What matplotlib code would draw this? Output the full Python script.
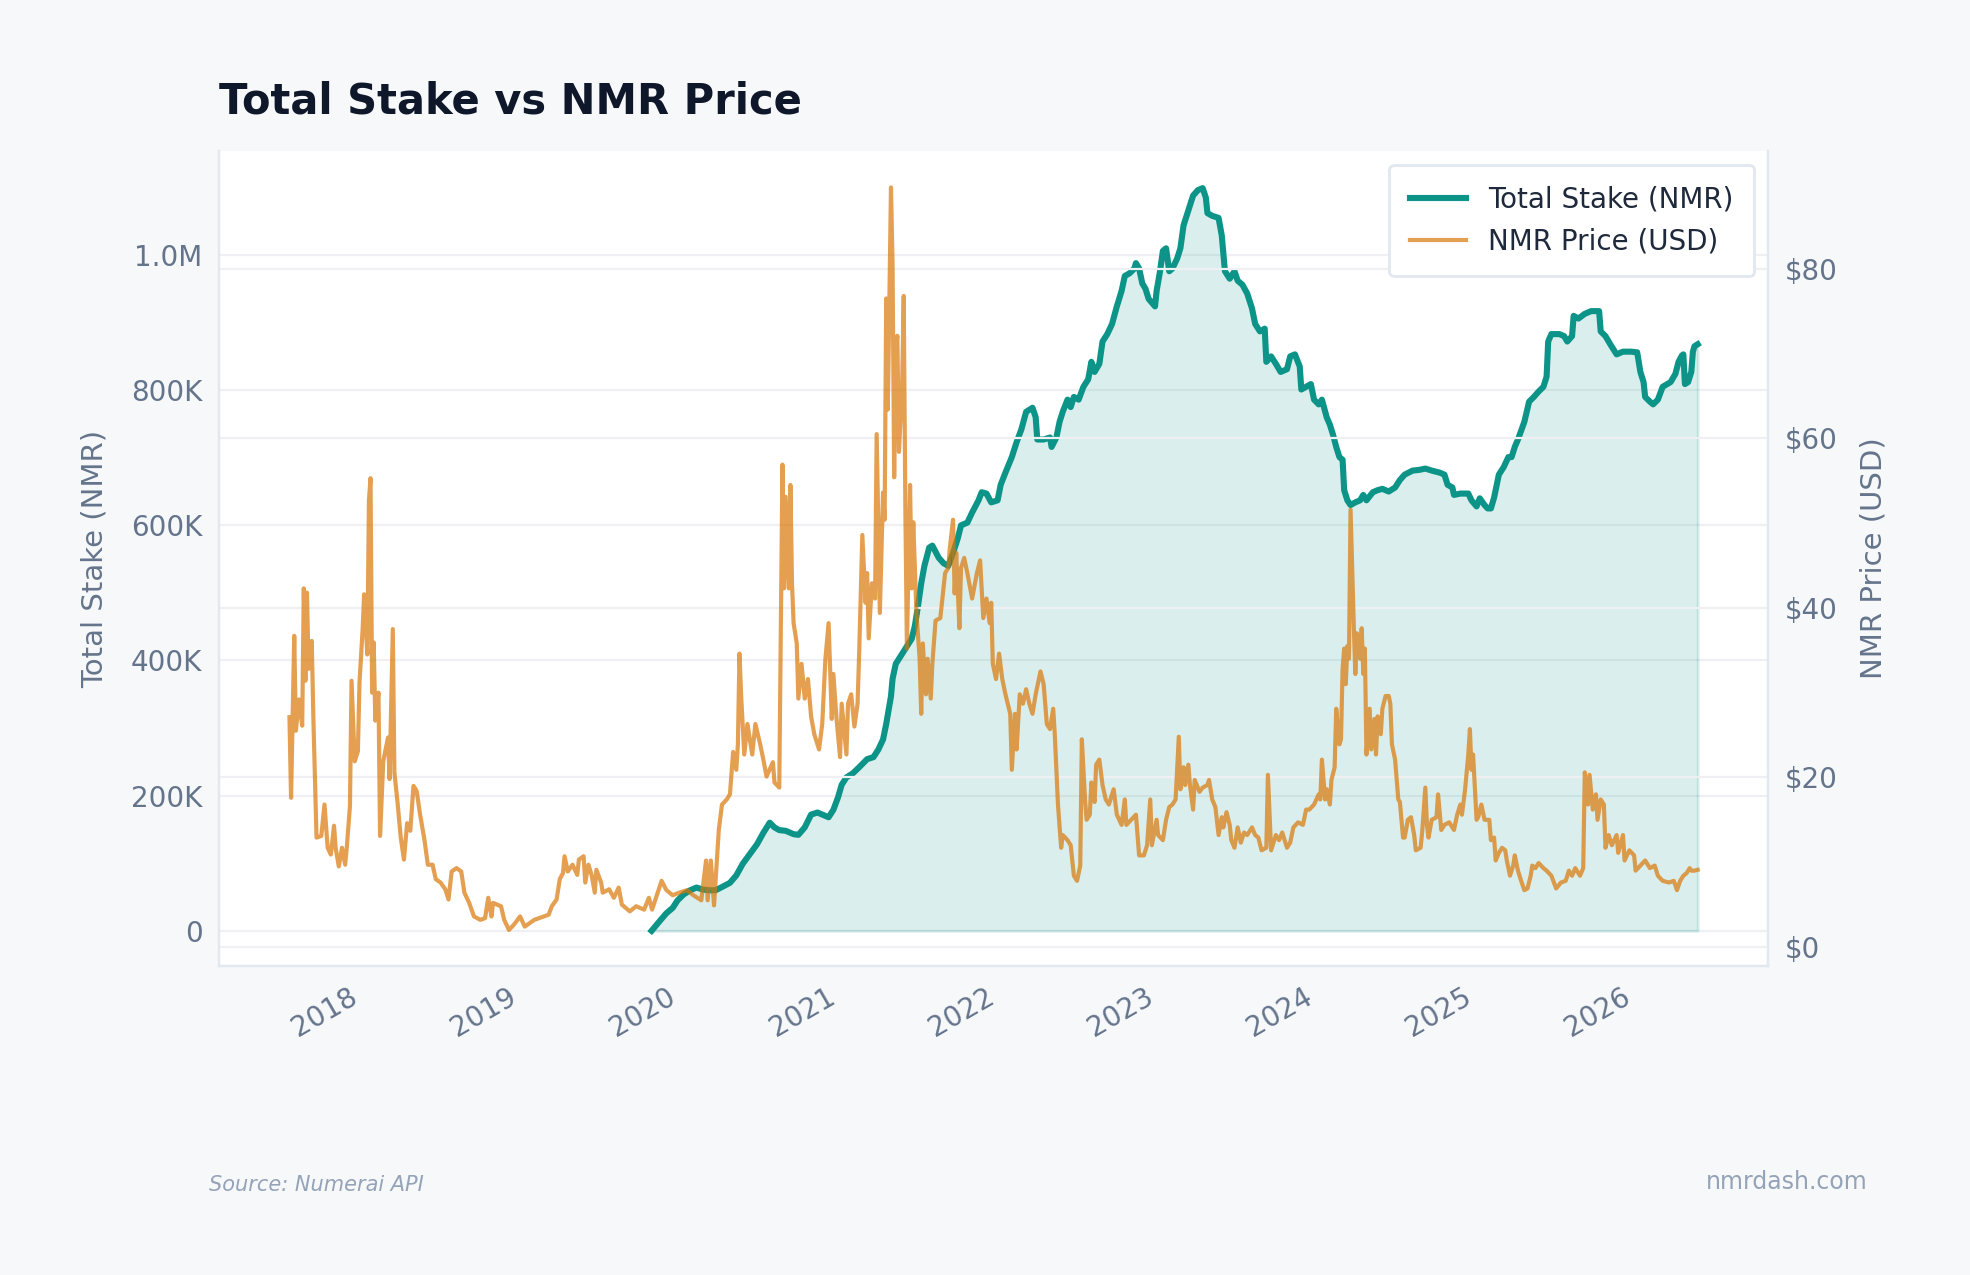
import datetime as dt
import numpy as np
import matplotlib
matplotlib.use('Agg')
import matplotlib.pyplot as plt
import matplotlib.dates as mdates
from matplotlib.ticker import FuncFormatter

# total stake (decimal year, thousands of NMR)
stake_t = [2019.817, 2019.87, 2019.91, 2019.95, 2019.98, 2020.02, 2020.06, 2020.10, 2020.14, 2020.18,
           2020.22, 2020.27, 2020.31, 2020.35, 2020.39, 2020.43, 2020.48, 2020.52, 2020.56, 2020.59,
           2020.62, 2020.66, 2020.71, 2020.74, 2020.78, 2020.82, 2020.86, 2020.89, 2020.93, 2020.96,
           2020.99, 2021.01, 2021.04, 2021.08, 2021.12, 2021.17, 2021.21, 2021.24, 2021.27, 2021.29,
           2021.32, 2021.33, 2021.35, 2021.39, 2021.42, 2021.45, 2021.47, 2021.49, 2021.51, 2021.53,
           2021.56, 2021.58, 2021.62, 2021.65, 2021.68, 2021.71, 2021.74, 2021.76, 2021.80, 2021.83,
           2021.87, 2021.89, 2021.92, 2021.95, 2021.99, 2022.01, 2022.04, 2022.08, 2022.11, 2022.14,
           2022.17, 2022.21, 2022.23, 2022.24, 2022.28, 2022.32, 2022.33, 2022.36, 2022.38, 2022.40,
           2022.43, 2022.45, 2022.47, 2022.50, 2022.53, 2022.56, 2022.58, 2022.60, 2022.63, 2022.65,
           2022.68, 2022.71, 2022.74, 2022.77, 2022.79, 2022.82, 2022.85, 2022.86, 2022.88, 2022.90,
           2022.92, 2022.94, 2022.98, 2022.99, 2023.01, 2023.03, 2023.05, 2023.07, 2023.09, 2023.12,
           2023.14, 2023.16, 2023.19, 2023.22, 2023.25, 2023.28, 2023.30, 2023.31, 2023.34, 2023.38,
           2023.40, 2023.42, 2023.45, 2023.48, 2023.50, 2023.53, 2023.56, 2023.59, 2023.61, 2023.64,
           2023.67, 2023.68, 2023.71, 2023.74, 2023.77, 2023.81, 2023.83, 2023.86, 2023.89, 2023.90,
           2023.93, 2023.96, 2023.98, 2024.01, 2024.03, 2024.06, 2024.08, 2024.10, 2024.12, 2024.14,
           2024.16, 2024.17, 2024.19, 2024.21, 2024.24, 2024.27, 2024.29, 2024.31, 2024.35, 2024.38,
           2024.41, 2024.45, 2024.49, 2024.52, 2024.55, 2024.60, 2024.64, 2024.68, 2024.72, 2024.77,
           2024.80, 2024.82, 2024.85, 2024.86, 2024.90, 2024.95, 2024.97, 2025.00, 2025.02, 2025.05,
           2025.07, 2025.09, 2025.11, 2025.14, 2025.17, 2025.20, 2025.22, 2025.24, 2025.26, 2025.30,
           2025.33, 2025.36, 2025.39, 2025.42, 2025.44, 2025.45, 2025.47, 2025.52, 2025.55, 2025.57,
           2025.60, 2025.61, 2025.64, 2025.68, 2025.72, 2025.77, 2025.78, 2025.81, 2025.84, 2025.88,
           2025.92, 2025.97, 2026.01, 2026.03, 2026.05, 2026.06, 2026.09, 2026.11, 2026.14, 2026.17,
           2026.22, 2026.25, 2026.27, 2026.29, 2026.30, 2026.31, 2026.33, 2026.35, 2026.36, 2026.37,
           2026.39]
stake_k = [0, 15, 26, 34, 45, 54, 60, 64, 61, 60,
           60, 66, 71, 82, 99, 112, 128, 145, 160, 153,
           149, 148, 143, 142, 153, 172, 175, 172, 168, 179,
           198, 216, 227, 233, 242, 254, 257, 268, 283, 306,
           347, 373, 395, 410, 421, 432, 451, 481, 514, 540,
           567, 570, 552, 544, 540, 559, 581, 600, 604, 619,
           637, 649, 647, 634, 637, 660, 678, 701, 723, 742,
           768, 774, 760, 727, 727, 730, 716, 730, 753, 768,
           786, 775, 790, 786, 805, 816, 842, 827, 839, 872,
           883, 898, 924, 947, 969, 973, 980, 988, 980, 958,
           950, 935, 924, 947, 973, 1006, 1010, 976, 980, 995,
           1010, 1044, 1066, 1088, 1096, 1099, 1085, 1062, 1058, 1055,
           1029, 976, 965, 976, 962, 956, 943, 921, 898, 887,
           891, 842, 850, 839, 827, 831, 850, 853, 835, 801,
           805, 809, 786, 779, 786, 760, 749, 734, 716, 701,
           697, 652, 637, 630, 634, 637, 645, 637, 649, 652,
           654, 650, 656, 667, 675, 681, 682, 684, 681, 678,
           675, 660, 656, 645, 647, 647, 637, 628, 640, 630,
           625, 625, 641, 675, 686, 701, 701, 716, 727, 753,
           783, 790, 798, 805, 820, 872, 883, 883, 880, 872,
           880, 910, 906, 913, 917, 917, 887, 880, 868, 853,
           857, 857, 856, 827, 812, 790, 783, 779, 786, 805,
           812, 824, 842, 851, 853, 809, 812, 827, 857, 865,
           868]

# NMR price (decimal year, USD)
price_t = [2017.54, 2017.55, 2017.57, 2017.58, 2017.60, 2017.62, 2017.63, 2017.64, 2017.65, 2017.66,
           2017.68, 2017.69, 2017.70, 2017.71, 2017.74, 2017.76, 2017.78, 2017.80, 2017.82, 2017.83,
           2017.85, 2017.87, 2017.89, 2017.90, 2017.92, 2017.93, 2017.95, 2017.97, 2017.98, 2018.00,
           2018.01, 2018.03, 2018.04, 2018.05, 2018.06, 2018.07, 2018.08, 2018.10, 2018.11, 2018.13,
           2018.16, 2018.17, 2018.19, 2018.20, 2018.22, 2018.24, 2018.26, 2018.28, 2018.30, 2018.32,
           2018.34, 2018.36, 2018.39, 2018.41, 2018.44, 2018.46, 2018.49, 2018.52, 2018.54, 2018.56,
           2018.59, 2018.62, 2018.64, 2018.67, 2018.70, 2018.74, 2018.77, 2018.79, 2018.81, 2018.82,
           2018.87, 2018.89, 2018.92, 2018.95, 2018.99, 2019.02, 2019.08, 2019.14, 2019.17, 2019.19,
           2019.22, 2019.24, 2019.26, 2019.27, 2019.29, 2019.32, 2019.35, 2019.36, 2019.39, 2019.40,
           2019.42, 2019.44, 2019.46, 2019.47, 2019.50, 2019.51, 2019.55, 2019.58, 2019.61, 2019.63,
           2019.68, 2019.72, 2019.77, 2019.80, 2019.82,
           2019.85, 2019.88, 2019.91, 2019.95, 2019.99, 2020.04, 2020.08, 2020.13, 2020.16, 2020.17,
           2020.19, 2020.21, 2020.24, 2020.26, 2020.29, 2020.31, 2020.33, 2020.35, 2020.36, 2020.37,
           2020.38, 2020.40, 2020.42, 2020.45, 2020.47, 2020.50, 2020.52, 2020.54, 2020.58, 2020.59,
           2020.62, 2020.64, 2020.65, 2020.66, 2020.68, 2020.69, 2020.70, 2020.71, 2020.73, 2020.74,
           2020.76, 2020.78, 2020.80, 2020.82, 2020.84, 2020.87, 2020.89, 2020.91, 2020.93, 2020.95,
           2020.96, 2020.98, 2021.00, 2021.01, 2021.04, 2021.05, 2021.07, 2021.09, 2021.11, 2021.12,
           2021.14, 2021.16, 2021.17, 2021.18, 2021.20, 2021.22, 2021.23, 2021.25, 2021.27, 2021.28,
           2021.29, 2021.30, 2021.32, 2021.33, 2021.34, 2021.35, 2021.36, 2021.37, 2021.39, 2021.40,
           2021.41, 2021.42, 2021.44, 2021.45, 2021.46, 2021.48, 2021.50, 2021.51, 2021.52, 2021.54,
           2021.55, 2021.57, 2021.58, 2021.60, 2021.63, 2021.65, 2021.66, 2021.68, 2021.69, 2021.71,
           2021.72, 2021.73, 2021.75, 2021.76, 2021.78, 2021.80, 2021.83, 2021.86, 2021.88, 2021.90,
           2021.92, 2021.94, 2021.95, 2021.96, 2021.98, 2022.00, 2022.02, 2022.04, 2022.07, 2022.08,
           2022.10, 2022.11, 2022.13, 2022.15, 2022.17, 2022.19, 2022.21, 2022.23, 2022.26, 2022.28,
           2022.30, 2022.32, 2022.34, 2022.35,
           2022.37, 2022.39, 2022.40, 2022.43, 2022.45, 2022.47, 2022.49, 2022.51, 2022.52, 2022.54,
           2022.55, 2022.57, 2022.58, 2022.60, 2022.61, 2022.63, 2022.65, 2022.67, 2022.69, 2022.72,
           2022.74, 2022.77, 2022.79, 2022.80, 2022.83, 2022.86, 2022.88, 2022.91, 2022.93, 2022.95,
           2022.96, 2022.99, 2023.00, 2023.03, 2023.05, 2023.07, 2023.09, 2023.11, 2023.13, 2023.14,
           2023.16, 2023.17, 2023.19, 2023.20, 2023.22, 2023.23, 2023.26, 2023.28, 2023.31, 2023.32,
           2023.34, 2023.36, 2023.38, 2023.40, 2023.41, 2023.43, 2023.45, 2023.46, 2023.48, 2023.50,
           2023.52, 2023.54, 2023.56, 2023.59, 2023.61, 2023.63, 2023.65, 2023.68, 2023.69, 2023.71,
           2023.74, 2023.76, 2023.78, 2023.81, 2023.83, 2023.85, 2023.88, 2023.91, 2023.93, 2023.95,
           2023.98, 2024.01, 2024.02, 2024.03, 2024.05, 2024.06, 2024.08, 2024.09, 2024.11, 2024.12,
           2024.14, 2024.15, 2024.16, 2024.17, 2024.18, 2024.19, 2024.20, 2024.21, 2024.23, 2024.24,
           2024.25, 2024.27, 2024.28, 2024.29, 2024.30, 2024.31, 2024.33, 2024.34, 2024.36, 2024.37,
           2024.38, 2024.40, 2024.41, 2024.43, 2024.45, 2024.46, 2024.47, 2024.49, 2024.51, 2024.52,
           2024.54, 2024.55, 2024.57, 2024.59, 2024.61, 2024.62, 2024.65, 2024.66, 2024.68, 2024.69,
           2024.70, 2024.72, 2024.75, 2024.76, 2024.78, 2024.80, 2024.83, 2024.86,
           2024.88, 2024.90, 2024.91, 2024.93, 2024.95, 2024.96, 2024.97, 2024.98, 2025.00, 2025.01,
           2025.03, 2025.05, 2025.08, 2025.09, 2025.11, 2025.12, 2025.14, 2025.16, 2025.18, 2025.19,
           2025.21, 2025.23, 2025.24, 2025.26, 2025.28, 2025.30, 2025.32, 2025.34, 2025.35, 2025.37,
           2025.39, 2025.42, 2025.44, 2025.47, 2025.50, 2025.53, 2025.56, 2025.58, 2025.60, 2025.62,
           2025.65, 2025.67, 2025.68, 2025.70, 2025.71, 2025.73, 2025.75, 2025.76, 2025.78, 2025.80,
           2025.81, 2025.83, 2025.85, 2025.88, 2025.89, 2025.92, 2025.93, 2025.96, 2025.99, 2026.00,
           2026.03, 2026.06, 2026.09, 2026.12, 2026.14, 2026.17, 2026.21, 2026.24, 2026.26, 2026.28,
           2026.30, 2026.32, 2026.34, 2026.35, 2026.37, 2026.39]
price_usd = [27.1, 17.6, 36.7, 25.5, 29.2, 26.1, 42.3, 31.4, 41.8, 32.8,
             36.1, 27.1, 20.2, 12.9, 13.1, 16.8, 11.7, 10.9, 14.3, 11.7,
             9.5, 11.7, 9.7, 11.7, 16.6, 31.4, 21.9, 23.1, 31.2, 37.3,
             41.6, 34.5, 52.6, 55.3, 30.0, 35.9, 26.7, 30.0, 13.1, 21.9,
             24.7, 19.8, 37.5, 20.6, 17.0, 12.9, 10.3, 14.6, 13.7, 19.0,
             18.4, 15.8, 12.5, 9.7, 9.7, 8.0, 7.6, 6.8, 5.6, 8.9,
             9.3, 8.9, 6.4, 5.2, 3.6, 3.2, 3.4, 5.8, 3.6, 5.2,
             4.8, 3.2, 2.0, 2.6, 3.6, 2.4, 3.2, 3.6, 3.8, 4.8,
             5.6, 8.0, 8.7, 10.7, 8.9, 9.7, 8.5, 10.3, 10.7, 7.6,
             9.7, 8.5, 6.4, 9.1, 7.6, 6.4, 6.8, 5.8, 7.0, 5.0,
             4.2, 4.8, 4.4, 5.8, 4.4,
             6.1, 7.8, 6.7, 6.1, 6.4, 6.7, 6.1, 5.5, 10.2, 5.5,
             10.2, 4.9, 13.8, 16.8, 17.4, 18.0, 23.0, 20.9, 23.9, 34.6,
             29.8, 22.7, 26.3, 22.7, 26.3, 23.9, 22.1, 20.1, 21.8, 19.4,
             18.8, 56.9, 42.3, 53.1, 42.3, 54.5, 42.9, 38.2, 35.8, 29.3,
             33.4, 29.3, 31.6, 27.2, 25.1, 23.3, 26.3, 34.0, 38.2, 26.9,
             32.2, 26.9, 22.4, 28.7, 22.7, 28.7, 29.8, 26.0, 28.7, 34.6,
             48.6, 40.6, 44.1, 36.4, 42.9, 41.1, 60.5, 39.4, 53.6, 50.4,
             76.5, 63.4, 89.6, 80.4, 55.4, 70.3, 72.1, 58.4, 66.1, 76.8,
             52.4, 35.2, 54.5, 42.3, 50.1, 39.4, 34.0, 27.5, 35.8, 29.8,
             34.0, 29.3, 33.4, 38.5, 38.8, 42.3, 44.1, 44.7, 47.1, 50.4,
             41.7, 46.5, 37.6, 44.7, 45.9, 44.1, 41.1, 44.1, 45.6, 38.8,
             41.1, 38.2, 40.6, 33.4, 31.6, 34.6, 31.6, 29.8, 27.5, 20.9,
             27.5, 23.3, 29.8, 28.7, 30.4, 28.7, 27.5, 29.8, 32.5, 31.0,
             26.3, 25.7, 28.1, 25.1,
             16.8, 11.7, 13.2, 12.6, 12.0, 8.4, 7.8, 9.6, 24.5, 17.4,
             15.0, 15.6, 19.4, 17.1, 21.5, 22.1, 19.1, 17.4, 16.8, 18.6,
             15.6, 14.4, 17.4, 14.4, 15.0, 15.6, 10.8, 10.8, 12.0, 17.4,
             12.0, 15.0, 13.2, 12.6, 15.0, 16.5, 16.8, 17.4, 24.8, 18.6,
             21.2, 19.1, 21.5, 19.1, 16.2, 19.7, 18.3, 18.8, 19.1, 19.7,
             17.4, 16.5, 13.2, 15.3, 14.1, 15.9, 14.4, 12.6, 11.7, 14.1,
             12.3, 13.5, 13.2, 14.1, 13.2, 12.9, 11.4, 11.7, 20.3, 11.4,
             13.2, 12.6, 13.5, 11.7, 12.3, 14.1, 14.7, 14.4, 16.2, 16.2,
             16.8, 18.0, 17.4, 22.1, 17.4, 18.6, 16.8, 19.7, 21.2, 28.1,
             23.9, 24.5, 32.8, 35.2, 31.0, 35.5, 34.0, 51.6, 38.2, 32.2,
             37.0, 34.0, 37.6, 32.2, 35.2, 22.7, 28.1, 23.3, 26.9, 22.7,
             27.2, 25.1, 28.1, 29.6, 29.6, 28.7, 23.9, 22.1, 17.4, 17.1,
             12.9, 12.9, 15.0, 15.3, 13.2, 11.4, 11.7, 13.5, 18.8, 14.4,
             12.9, 15.0, 15.3, 18.0, 13.8, 14.4, 14.7, 13.8,
             15.6, 16.8, 15.6, 18.6, 22.7, 25.7, 20.9, 22.7, 15.0, 15.3,
             16.8, 15.0, 15.0, 12.6, 12.9, 10.2, 11.1, 11.7, 11.4, 10.2,
             8.4, 9.6, 10.8, 9.0, 7.8, 6.7, 6.9, 8.4, 9.6, 9.3,
             9.9, 9.3, 9.0, 8.4, 6.9, 7.6, 7.8, 9.0, 8.4, 9.3,
             8.4, 9.3, 20.6, 16.8, 20.3, 16.2, 18.0, 15.0, 17.4, 16.8,
             11.7, 13.2, 12.0, 13.2, 11.1, 13.2, 10.2, 11.4, 10.8, 9.0,
             9.6, 10.2, 9.3, 9.6, 8.4, 7.8, 7.6, 7.8, 6.7, 7.8,
             8.4, 8.7, 9.3, 9.0, 9.0, 9.1]


def to_date(y):
    yr = int(y)
    return dt.datetime(yr, 1, 1) + dt.timedelta(days=(y - yr) * 365.25)


stake_dates = [to_date(v) for v in stake_t]
stake_vals = np.array(stake_k) * 1000.0
price_dates = [to_date(v) for v in price_t]

teal = '#0d9488'
orange = '#d97706'
muted = '#64748b'
grid_c = '#eef0f4'
edge_c = '#e2e8f0'

fig = plt.figure(figsize=(9.85, 6.375), dpi=200, facecolor='#f7f8fa')
ax1 = fig.add_axes([0.1112, 0.2424, 0.7863, 0.6392])
ax1.set_facecolor('white')
ax2 = ax1.twinx()

l1, = ax1.plot(stake_dates, stake_vals, color=teal, lw=2.2, label='Total Stake (NMR)', zorder=3)
ax1.fill_between(stake_dates, 0, stake_vals, color=teal, alpha=0.15, lw=1, zorder=2)
l2, = ax2.plot(price_dates, price_usd, color=orange, lw=1.5, alpha=0.7, label='NMR Price (USD)')

ax1.set_ylim(-52000, 1154000)
ax2.set_ylim(-2.24, 93.9)
ax1.set_yticks([0, 200000, 400000, 600000, 800000, 1000000])
ax2.set_yticks([0, 20, 40, 60, 80])


def stake_fmt(v, pos):
    if v >= 1e6:
        return f'{v/1e6:.1f}M'
    if v == 0:
        return '0'
    return f'{v/1e3:.0f}K'


ax1.yaxis.set_major_formatter(FuncFormatter(stake_fmt))
ax2.yaxis.set_major_formatter(FuncFormatter(lambda v, p: f'${v:.0f}'))

ax1.xaxis.set_major_locator(mdates.YearLocator())
ax1.xaxis.set_major_formatter(mdates.DateFormatter('%Y'))
for lbl in ax1.get_xticklabels():
    lbl.set_rotation(30)
    lbl.set_ha('right')

for ax in (ax1, ax2):
    ax.grid(axis='y', color=grid_c, lw=0.8)
    ax.grid(axis='x', visible=False)
    ax.set_axisbelow(True)
    ax.tick_params(length=0, labelsize=10, labelcolor=muted, pad=6)
    for s in ax.spines.values():
        s.set_color(edge_c)
        s.set_linewidth(0.8)
    ax.spines['top'].set_visible(False)

ax1.set_ylabel('Total Stake (NMR)', fontsize=10.5, color=muted, labelpad=8)
ax2.set_ylabel('NMR Price (USD)', fontsize=10.5, color=muted, labelpad=8)

leg = ax2.legend([l1, l2], ['Total Stake (NMR)', 'NMR Price (USD)'], loc='upper right',
                 fontsize=10, frameon=True, fancybox=True, facecolor='white',
                 edgecolor=edge_c, framealpha=1.0, borderpad=0.75)
for t in leg.get_texts():
    t.set_color('#1e293b')

fig.text(0.1112, 0.9106, 'Total Stake vs NMR Price', fontsize=15, fontweight='bold',
         color='#0f172a', ha='left', va='baseline')
fig.text(0.106, 0.0706, 'Source: Numerai API', fontsize=7.5, style='italic',
         color='#94a3b8', ha='left', va='center')
fig.text(0.948, 0.073, 'nmrdash.com', fontsize=8.5, color='#94a3b8', ha='right', va='center')

fig.savefig('out.png', dpi=200, facecolor=fig.get_facecolor())
